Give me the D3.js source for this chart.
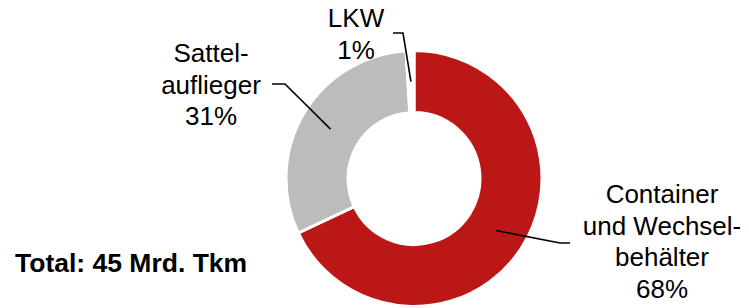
<!DOCTYPE html>
<html>
<head>
<meta charset="utf-8">
<script src="https://cdn.jsdelivr.net/npm/d3@7"></script>
<style>
  html, body { margin: 0; padding: 0; background: #fff; }
  text { font-family: "Liberation Sans", Arial, Helvetica, sans-serif; fill: #000; }
</style>
</head>
<body>
<div id="chart"></div>
<script>
// data
var categories = ["Container und Wechselbehälter", "Sattelauflieger", "LKW"];
var values = [68, 31, 1];
var labelLines = [
    ["Container", "und Wechsel-", "behälter", "68%"],
    ["Sattel-", "auflieger", "31%"],
    ["LKW", "1%"]
];
var totalText = "Total: 45 Mrd. Tkm";

// layout
var width = 749, height = 308;
var cx = 414, cy = 178.5;
var outerR = 128, innerR = 66;
var fontSize = 26;
var lineGap = 31.5;
var colors = ["#bc1717", "#bcbcbc", "#ffffff"];

// where each label sits (center x, first baseline) and its leader elbow/end
var labelPos = [
    { x: 662, y: 203, elbow: [560, 243], end: [570, 243] },
    { x: 211, y: 62, elbow: [285, 84], end: [272, 84] },
    { x: 356, y: 27, elbow: [403, 33], end: [393, 33] }
];

var svg = d3.select("#chart").append("svg")
    .attr("width", width)
    .attr("height", height);

var pie = d3.pie().sort(null).value(function (d) { return d; });
var arcs = pie(values);

var arc = d3.arc().innerRadius(innerR).outerRadius(outerR);
var midArc = d3.arc().innerRadius((innerR + outerR) / 2).outerRadius((innerR + outerR) / 2);

var g = svg.append("g").attr("transform", "translate(" + cx + "," + cy + ")");

g.selectAll("path.slice")
    .data(arcs)
    .enter().append("path")
    .attr("class", "slice")
    .attr("d", arc)
    .attr("fill", function (d, i) { return colors[i]; })
    .attr("stroke", "#fff")
    .attr("stroke-width", 3)
    .attr("stroke-linejoin", "miter");

//Leader lines from slice middle to label
svg.selectAll("polyline.leader")
    .data(arcs)
    .enter().append("polyline")
    .attr("class", "leader")
    .attr("points", function (d, i) {
        var c = midArc.centroid(d);
        var p = labelPos[i];
        return [[c[0] + cx, c[1] + cy], p.elbow, p.end].map(function (q) { return q.join(","); }).join(" ");
    })
    .attr("fill", "none")
    .attr("stroke", "#000")
    .attr("stroke-width", 1.6);

//Labels
labelLines.forEach(function (lines, i) {
    var t = svg.append("text")
        .attr("text-anchor", "middle")
        .attr("font-size", fontSize);
    lines.forEach(function (line, j) {
        t.append("tspan")
            .attr("x", labelPos[i].x)
            .attr("y", labelPos[i].y + j * lineGap)
            .text(line);
    });
});

svg.append("text")
    .attr("x", 15)
    .attr("y", 272)
    .attr("font-size", 26.5)
    .attr("font-weight", "bold")
    .text(totalText);
</script>
</body>
</html>
